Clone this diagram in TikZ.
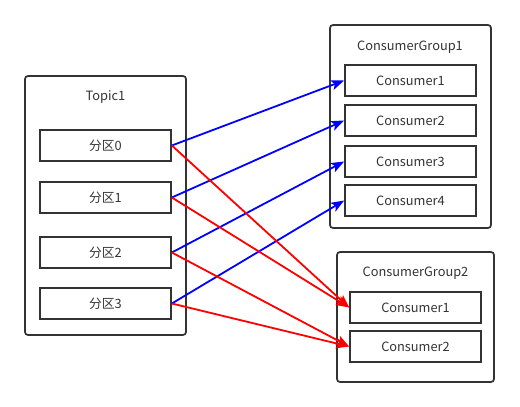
\documentclass[tikz,border=0pt]{standalone}
\usepackage{fontspec}
\setmainfont{Noto Sans CJK SC}
\usetikzlibrary{arrows.meta}
\definecolor{edge}{HTML}{333333}
\definecolor{txt}{HTML}{333333}
\begin{document}
\begin{tikzpicture}[x=1pt,y=-1pt,
  outerbox/.style={draw=edge,line width=1.7pt,rounded corners=3pt},
  innerbox/.style={draw=edge,line width=1.7pt,inner sep=0pt,text=txt,minimum width=131pt,minimum height=31pt},
  ttl/.style={text=txt,inner sep=0pt},
  blueln/.style={draw=blue,line width=1.8pt,-{Stealth[length=13pt,width=10pt,inset=3pt]}},
  redln/.style={draw=red,line width=1.8pt,-{Stealth[length=13pt,width=10pt,inset=3pt]}},
  font=\fontsize{12.8}{15}\selectfont]
\useasboundingbox (0,0) rectangle (520,407);
% Topic1
\draw[outerbox] (25,76) rectangle (186,335);
\node[ttl] (t1) at (105.5,97.5) {Topic1};
\node[innerbox] (p0) at (105.5,145.5) {分区0};
\node[innerbox] (p1) at (105.5,197.5) {分区1};
\node[innerbox] (p2) at (105.5,252.5) {分区2};
\node[innerbox] (p3) at (105.5,303.5) {分区3};
% ConsumerGroup1
\draw[outerbox] (330,25) rectangle (491,228);
\node[ttl] (g1) at (410,47.5) {ConsumerGroup1};
\node[innerbox] (a1) at (410.5,80.5) {Consumer1};
\node[innerbox] (a2) at (410.5,120.5) {Consumer2};
\node[innerbox] (a3) at (410.5,161.5) {Consumer3};
\node[innerbox] (a4) at (410.5,200.5) {Consumer4};
% ConsumerGroup2
\draw[outerbox] (337,252) rectangle (494,382);
\node[ttl] (g2) at (415.5,273.5) {ConsumerGroup2};
\node[innerbox] (b1) at (415.5,307.5) {Consumer1};
\node[innerbox] (b2) at (415.5,346.5) {Consumer2};
% connectors
\draw[blueln] (p0.east) -- (a1.west);
\draw[blueln] (p1.east) -- (a2.west);
\draw[blueln] (p2.east) -- (a3.west);
\draw[blueln] (p3.east) -- (a4.west);
\draw[redln] (p0.east) -- (b1.west);
\draw[redln] (p1.east) -- (b1.west);
\draw[redln] (p2.east) -- (b2.west);
\draw[redln] (p3.east) -- (b2.west);
\end{tikzpicture}
\end{document}
